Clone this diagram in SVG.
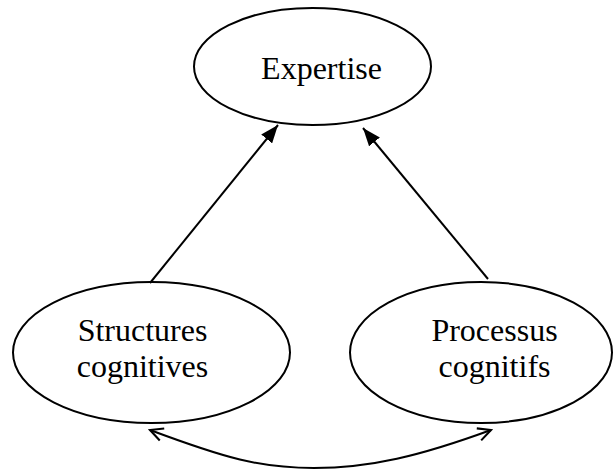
<svg xmlns="http://www.w3.org/2000/svg" width="613" height="469" viewBox="0 0 613 469">
<style>
.node ellipse{fill:#fff;stroke:#000;stroke-width:2}
.node text{font-family:'Liberation Serif','Times New Roman',serif;font-size:32px;fill:#000;text-anchor:middle}
.conn path{fill:none;stroke:#000;stroke-width:2}
</style>
<defs>
<marker id="solid" viewBox="0 0 10 10" refX="10" refY="5" markerWidth="18" markerHeight="14" markerUnits="userSpaceOnUse" orient="auto" preserveAspectRatio="none">
<path d="M0,0 L10,5 L0,10 Z" fill="#000"/>
</marker>
<marker id="openEnd" viewBox="0 0 10 10" refX="9" refY="5" markerWidth="16" markerHeight="16" markerUnits="userSpaceOnUse" orient="auto-start-reverse">
<path d="M1,1 L9,5 L1,9" fill="none" stroke="#000" stroke-width="1.3"/>
</marker>
</defs>
<rect width="613" height="469" fill="#fff"/>
<g id="expertise" class="node">
<ellipse cx="312.5" cy="66.5" rx="118.5" ry="58.5"/>
<text x="321.5" y="79">Expertise</text>
</g>
<g id="structures" class="node">
<ellipse cx="151.5" cy="352.5" rx="138.5" ry="70.5"/>
<text x="142.5" y="341">Structures</text>
<text x="142.5" y="377">cognitives</text>
</g>
<g id="processus" class="node">
<ellipse cx="481" cy="352.5" rx="131" ry="70.5"/>
<text x="494.5" y="341">Processus</text>
<text x="494.5" y="377">cognitifs</text>
</g>
<g id="connectors" class="conn">
<path d="M150,283 L278,125" marker-end="url(#solid)"/>
<path d="M488,279 L363,128" marker-end="url(#solid)"/>
<path d="M150,430 C225,458 260,468 314,468 C370,468 420,456 491,430" marker-start="url(#openEnd)" marker-end="url(#openEnd)"/>
</g>
</svg>
